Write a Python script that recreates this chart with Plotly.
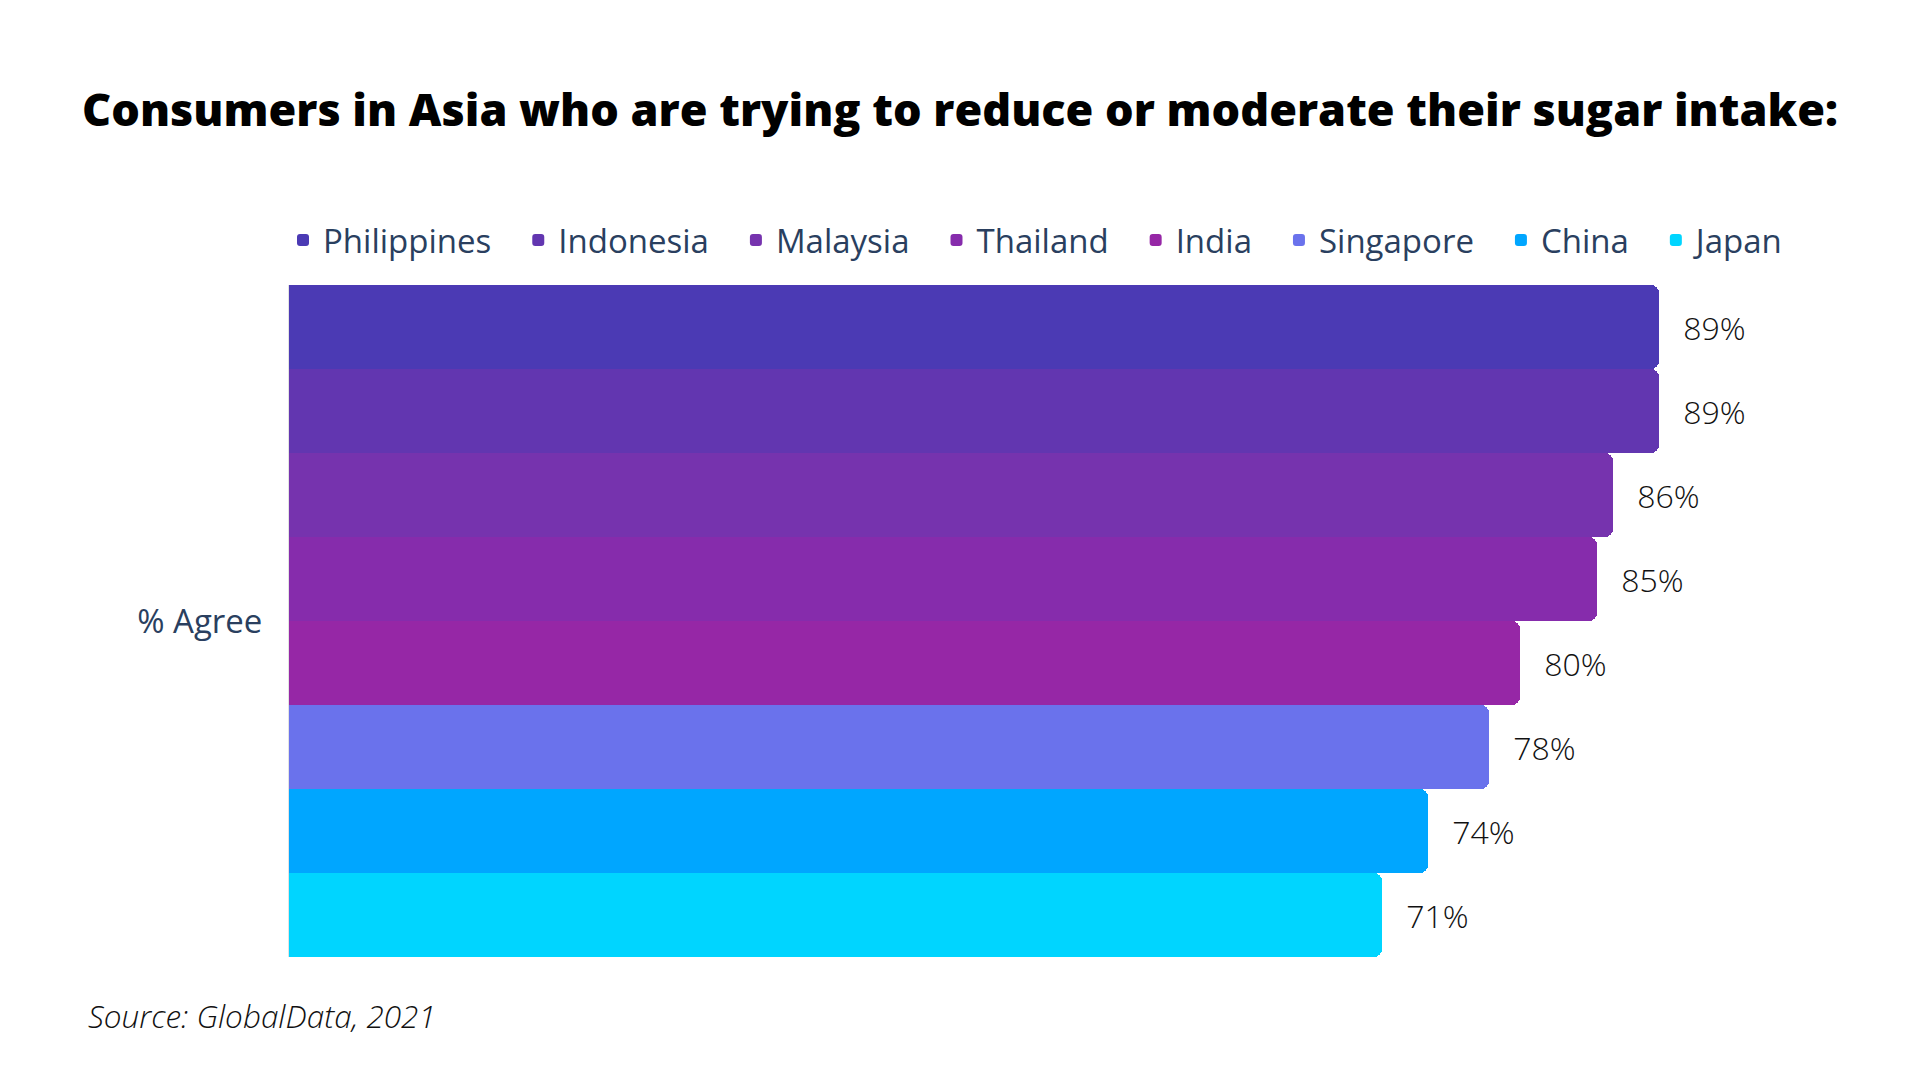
import plotly.graph_objects as go

countries = ["Philippines", "Indonesia", "Malaysia", "Thailand", "India", "Singapore", "China", "Japan"]
values = [89, 89, 86, 85, 80, 78, 74, 71]
colors = ["#4B3AB4", "#6236B0", "#7633AE", "#862CAC", "#9627A6", "#6A72EC", "#00A6FF", "#00D5FF"]
category = ["% Agree"]

# page body has an 8px margin; positions below are in figure coordinates
L, T, R, B = 281, 277, 100, 131
plot_w = 1920 - L - R
plot_h = 1080 - T - B

fig = go.Figure()
for name, v, c in zip(countries, values, colors):
    fig.add_trace(go.Bar(
        name=name + "\u2002\u2009", y=category, x=[v], orientation="h",
        marker=dict(color=c, line=dict(width=0)),
        text=[f"{v}%"], texttemplate="\u2002\u2009%{text}", textposition="outside",
        textfont=dict(family="Open Sans", size=32, color="#111111", weight=300),
        cliponaxis=False,
    ))

fig.update_layout(
    width=1920, height=1080,
    paper_bgcolor="white", plot_bgcolor="white",
    barmode="group", bargap=0, bargroupgap=0, barcornerradius=8,
    margin=dict(l=L, r=R, t=T, b=B),
    title=dict(text="Consumers in Asia who are trying to reduce or moderate their sugar intake:",
               x=(960 - 8) / 1920, xanchor="center", y=1 - 102 / 1080, yanchor="middle",
               font=dict(family="Open Sans", size=45, color="black", weight=800)),
    legend=dict(orientation="h", x=-6 / plot_w, xanchor="left", y=1 + 45 / plot_h, yanchor="middle",
                font=dict(family="Open Sans", size=33, color="#2a3f5f"),
                traceorder="normal", itemclick=False),
    font=dict(family="Open Sans"),
    showlegend=True,
)
fig.update_xaxes(range=[0, 100], visible=False, showgrid=False, zeroline=False)
fig.update_yaxes(autorange="reversed", showgrid=False, showline=True, linecolor="#e3e3e3", linewidth=1,
                 ticks="", ticklabelstandoff=19,
                 tickfont=dict(family="Open Sans", size=33, color="#2a3f5f"))

fig.add_annotation(text="<i>Source: GlobalData, 2021</i>", xref="paper", yref="paper",
                   x=-203 / plot_w, xanchor="left", y=-58 / plot_h, yanchor="middle",
                   showarrow=False, font=dict(family="Open Sans", size=31.5, color="#111111", weight=300))

fig.write_html("out.html")
